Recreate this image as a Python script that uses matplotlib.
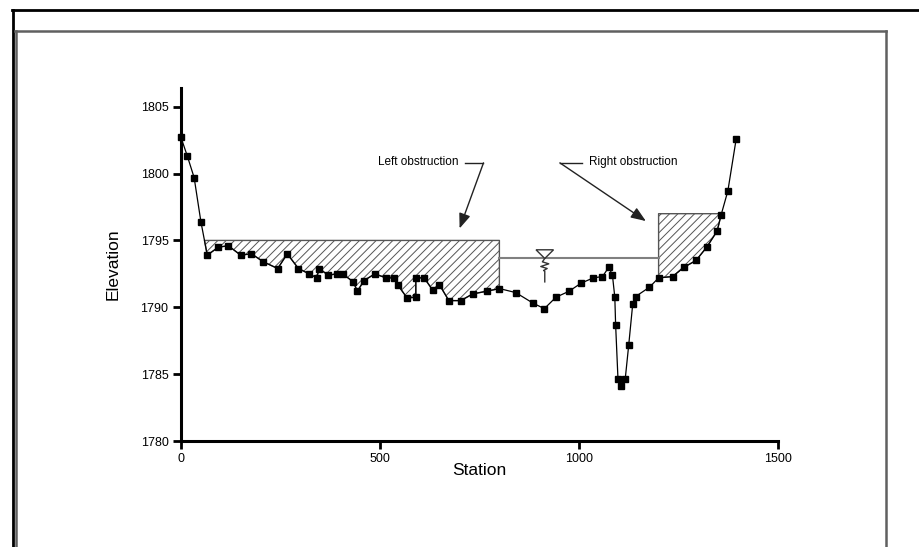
import numpy as np
import matplotlib.pyplot as plt
from matplotlib.lines import Line2D

plt.rcParams['font.family'] = ['Liberation Sans', 'DejaVu Sans']
plt.rcParams['hatch.linewidth'] = 0.7

# ground profile
station = [0, 16, 33, 50, 66, 94, 119, 150, 177, 207, 243, 267, 295, 322, 341, 347,
           370, 391, 406, 433, 443, 460, 487, 515, 535, 544, 568, 590, 590, 611, 632,
           649, 673, 703, 733, 768, 800, 841, 885, 913, 942, 975, 1005, 1036, 1059,
           1075, 1084, 1090, 1092, 1098, 1105, 1116, 1125, 1135, 1142, 1177, 1200,
           1235, 1264, 1294, 1321, 1347, 1357, 1374, 1395]
elevation = [1802.7, 1801.3, 1799.7, 1796.4, 1793.9, 1794.5, 1794.6, 1793.9, 1794.0,
             1793.4, 1792.9, 1794.0, 1792.9, 1792.5, 1792.2, 1792.9, 1792.4, 1792.5,
             1792.5, 1791.9, 1791.2, 1792.0, 1792.5, 1792.2, 1792.2, 1791.7, 1790.7,
             1790.75, 1792.2, 1792.2, 1791.3, 1791.7, 1790.5, 1790.5, 1791.0, 1791.2,
             1791.4, 1791.1, 1790.3, 1789.9, 1790.75, 1791.2, 1791.8, 1792.2, 1792.3,
             1793.0, 1792.4, 1790.75, 1788.7, 1784.6, 1784.15, 1784.6, 1787.2, 1790.25,
             1790.8, 1791.5, 1792.2, 1792.3, 1793.0, 1793.5, 1794.5, 1795.7, 1796.9,
             1798.7, 1802.6]

left_obs_end = 800
left_obs_elev = 1795
right_obs_start = 1200
right_obs_elev = 1797
ws_start, ws_end = 800, 1200
ws_elev = 1793.65
ws_symbol_x = 914

xticks = [0, 500, 1000, 1500]
yticks = [1780, 1785, 1790, 1795, 1800, 1805]

x = np.array(station)
y = np.array(elevation)

fig = plt.figure(figsize=(9.19, 5.47), dpi=100)
W, H = 919.0, 547.0
ax = fig.add_axes([181 / W, 1 - 441 / H, (778 - 181) / W, (441 - 88) / H])

# obstructions (hatched)
mask_l = (x <= left_obs_end) & (y <= left_obs_elev)
ax.fill_between(x, y, left_obs_elev, where=mask_l, interpolate=True,
                facecolor='white', edgecolor='#555555', hatch='////', lw=1.0, zorder=1)
mask_r = (x >= right_obs_start) & (y <= right_obs_elev)
ax.fill_between(x, y, right_obs_elev, where=mask_r, interpolate=True,
                facecolor='white', edgecolor='#555555', hatch='////', lw=1.0, zorder=1)

# water surface
ax.plot([ws_start, ws_end], [ws_elev, ws_elev], color='#808080', lw=1.5, zorder=2)
tri_x = [ws_symbol_x - 22, ws_symbol_x + 22, ws_symbol_x, ws_symbol_x - 22]
tri_y = [ws_elev + 0.65, ws_elev + 0.65, ws_elev, ws_elev + 0.65]
ax.fill(tri_x, tri_y, facecolor='white', edgecolor='#333333', lw=1.0, zorder=3)
zz_x = ws_symbol_x + np.array([0, -6, 10, -10, 6, -3, 0, 0])
zz_y = ws_elev - np.array([0, 0.25, 0.4, 0.6, 0.75, 0.9, 0.95, 1.75])
ax.plot(zz_x, zz_y, color='#333333', lw=1.0, zorder=3)

# ground line
ax.plot(x, y, color='black', lw=0.9, marker='s', ms=4, mfc='black', mec='black',
        zorder=4, clip_on=False)

# labels for obstructions
ax.text(596, 1800.85, 'Left obstruction', fontsize=8.5, ha='center', va='center')
ax.plot([714, 760], [1800.8, 1800.8], color='#222222', lw=1.0)
ax.annotate('', xy=(700, 1795.9), xytext=(760, 1800.8),
            arrowprops=dict(arrowstyle='-|>,head_length=0.9,head_width=0.35',
                            color='#222222', lw=1.0, shrinkA=0, shrinkB=0))
ax.text(1024, 1800.85, 'Right obstruction', fontsize=8.5, ha='left', va='center')
ax.plot([952, 1008], [1800.8, 1800.8], color='#222222', lw=1.0)
ax.annotate('', xy=(1168, 1796.45), xytext=(952, 1800.8),
            arrowprops=dict(arrowstyle='-|>,head_length=0.9,head_width=0.35',
                            color='#222222', lw=1.0, shrinkA=0, shrinkB=0))

ax.set_xlim(0, 1500)
ax.set_ylim(1780, 1806.4)
ax.set_xticks(xticks)
ax.set_yticks(yticks)
for s in ['top', 'right']:
    ax.spines[s].set_visible(False)
for s in ['left', 'bottom']:
    ax.spines[s].set_linewidth(2.2)
ax.tick_params(direction='out', length=6, width=2, labelsize=9, pad=3)
ax.set_xlabel('Station', fontsize=12.5, labelpad=-2)
ax.set_ylabel('Elevation', fontsize=12.5, labelpad=14)

# page frames
def fline(xs, ys, color, lw):
    fig.add_artist(Line2D([v / W for v in xs], [1 - v / H for v in ys],
                          color=color, lw=lw, transform=fig.transFigure))

fline([12, 919], [10, 10], 'black', 2)
fline([12.7, 12.7], [10, 547], 'black', 2)
fline([15, 886], [30.7, 30.7], '#606060', 1.8)
fline([15.7, 15.7], [30.7, 547], '#606060', 1.8)
fline([886, 886], [30.7, 547], '#606060', 1.8)

fig.savefig('out.png', dpi=100)
